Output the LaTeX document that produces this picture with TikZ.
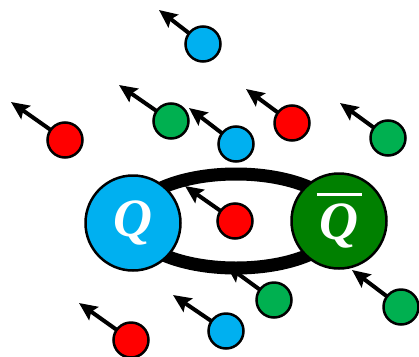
\documentclass[tikz,border=0pt]{standalone}
\usepackage{fontspec}
\usepackage{tikz}
\usetikzlibrary{arrows.meta}
\newfontfamily\quarkfont{Liberation Serif}
\definecolor{qblue}{RGB}{0,176,240}
\definecolor{qgreen}{RGB}{0,176,80}
\definecolor{qdark}{RGB}{0,128,0}
\definecolor{qred}{RGB}{255,0,0}
\tikzset{
  ball/.style={circle, draw=black, line width=2.5pt, minimum size=35pt, inner sep=0pt},
  quark/.style={circle, draw=black, line width=2.5pt, minimum size=95pt, inner sep=0pt,
    text=white, align=center, font=\quarkfont\fontsize{54}{54}\selectfont\bfseries\itshape},
  kick/.style={line width=4pt, -{Stealth[length=18pt, width=16pt, inset=3pt]}},
}
\begin{document}
\begin{tikzpicture}[x=1pt, y=-1pt]
\useasboundingbox (0,0) rectangle (419,356);
% ball centres and where their arrows point
\coordinate (c1) at (203,44);  \coordinate (t1) at (159,10);
\coordinate (c2) at (65,140);  \coordinate (t2) at (11,102);
\coordinate (c3) at (171,121); \coordinate (t3) at (119,85);
\coordinate (c4) at (236,144); \coordinate (t4) at (189,108);
\coordinate (c5) at (292,123); \coordinate (t5) at (246,89);
\coordinate (c6) at (388,138); \coordinate (t6) at (340,103);
\coordinate (c7) at (235,221); \coordinate (t7) at (185,186);
\coordinate (c8) at (274,300); \coordinate (t8) at (226,265);
\coordinate (c9) at (401,307); \coordinate (t9) at (352,270);
\coordinate (c10) at (131,340); \coordinate (t10) at (79,303);
\coordinate (c11) at (226,331); \coordinate (t11) at (173,295);
\foreach \i in {1,...,11}
  \draw[kick] (c\i) -- (t\i);
% flux tube
\draw[line width=13pt] (236,221) ellipse (105 and 47);
\node[quark, fill=qblue] (quarkQ) at (133,223) {Q};
\node[quark, fill=qdark] (quarkQbar) at (339,221) {\rule{45pt}{2.5pt}\\[-10pt]Q};
% the medium
\node[ball, fill=qblue] (blueA) at (c1) {};
\node[ball, fill=qred] (redA) at (c2) {};
\node[ball, fill=qgreen] (greenA) at (c3) {};
\node[ball, fill=qblue] (blueB) at (c4) {};
\node[ball, fill=qred] (redB) at (c5) {};
\node[ball, fill=qgreen] (greenB) at (c6) {};
\node[ball, fill=qred] (redC) at (c7) {};
\node[ball, fill=qgreen] (greenC) at (c8) {};
\node[ball, fill=qgreen] (greenD) at (c9) {};
\node[ball, fill=qred] (redD) at (c10) {};
\node[ball, fill=qblue] (blueC) at (c11) {};
\end{tikzpicture}
\end{document}
